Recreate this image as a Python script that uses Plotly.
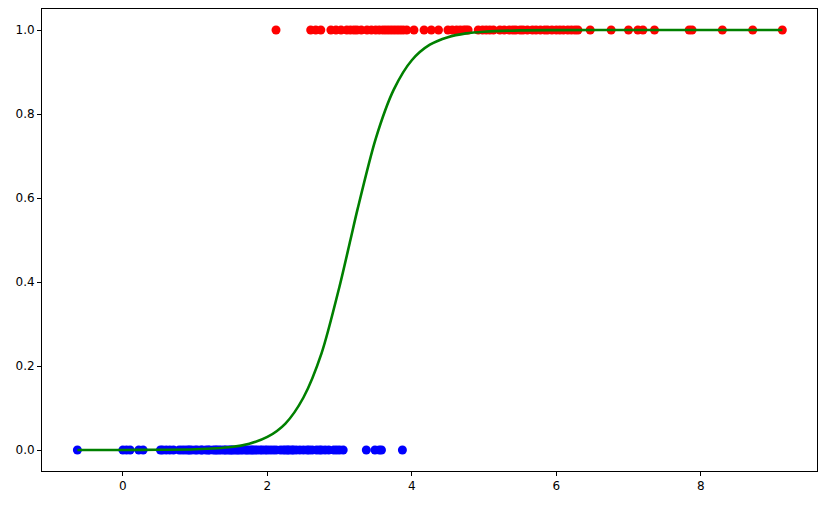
import plotly.graph_objects as go

# Class 0 samples (plotted at y = 0)
blue_x = [-0.63, 0.0, 0.05, 0.1, 0.22, 0.28, 0.52, 0.55, 0.6, 0.65, 0.7, 0.78, 0.82,
          0.86, 0.9, 0.92, 0.95, 1.0, 1.03, 1.08, 1.1, 1.15, 1.18, 1.2, 1.25, 1.28,
          1.3, 1.33, 1.36, 1.4, 1.42, 1.45, 1.48, 1.5, 1.52, 1.55, 1.58, 1.6, 1.63,
          1.66, 1.7, 1.72, 1.75, 1.78, 1.8, 1.83, 1.86, 1.9, 1.93, 1.97, 2.0, 2.04,
          2.08, 2.12, 2.18, 2.22, 2.25, 2.28, 2.3, 2.34, 2.36, 2.4, 2.45, 2.5, 2.55,
          2.58, 2.62, 2.68, 2.72, 2.75, 2.8, 2.85, 2.92, 2.96, 3.0, 3.05, 3.37, 3.49,
          3.55, 3.58, 3.87]
blue_y = [0.0] * len(blue_x)

# Class 1 samples (plotted at y = 1)
red_x = [2.12, 2.6, 2.67, 2.74, 2.88, 2.95, 3.02, 3.1, 3.15, 3.2, 3.24, 3.3, 3.38,
         3.44, 3.5, 3.55, 3.6, 3.64, 3.68, 3.72, 3.76, 3.8, 3.84, 3.88, 3.93, 4.03,
         4.17, 4.27, 4.37, 4.5, 4.56, 4.62, 4.67, 4.72, 4.75, 4.78, 4.92, 4.98, 5.03,
         5.08, 5.13, 5.22, 5.28, 5.35, 5.4, 5.44, 5.5, 5.54, 5.6, 5.67, 5.72, 5.78,
         5.84, 5.88, 5.94, 6.0, 6.05, 6.1, 6.16, 6.21, 6.26, 6.3, 6.47, 6.76, 7.0,
         7.13, 7.2, 7.36, 7.84, 7.88, 8.3, 8.72, 9.13]
red_y = [1.0] * len(red_x)

# Fitted probability curve
curve_x = [-0.63, 0.0, 0.5, 1.0, 1.5, 1.75, 2.0, 2.25, 2.5, 2.75, 3.0, 3.15, 3.25,
           3.5, 3.75, 4.0, 4.25, 4.5, 4.75, 5.0, 5.5, 6.0, 7.0, 9.13]
curve_y = [0.0, 0.0001, 0.0005, 0.0017, 0.007, 0.015, 0.031, 0.063, 0.125, 0.23,
           0.39, 0.5, 0.574, 0.741, 0.858, 0.928, 0.965, 0.983, 0.992, 0.996, 0.999,
           0.9997, 1.0, 1.0]

x_ticks = [0, 2, 4, 6, 8]
y_ticks = [0.0, 0.2, 0.4, 0.6, 0.8, 1.0]

fig = go.Figure()
fig.add_trace(go.Scatter(x=blue_x, y=blue_y, mode="markers",
                         marker=dict(color="#0000ff", size=9, line=dict(width=0)),
                         showlegend=False))
fig.add_trace(go.Scatter(x=red_x, y=red_y, mode="markers",
                         marker=dict(color="#ff0000", size=9, line=dict(width=0)),
                         showlegend=False))
fig.add_trace(go.Scatter(x=curve_x, y=curve_y, mode="lines",
                         line=dict(color="#008000", width=2.6, shape="spline", smoothing=0.8),
                         showlegend=False))

axis_common = dict(showline=True, mirror=True, linecolor="black", linewidth=1,
                   showgrid=False, zeroline=False, ticks="outside", ticklen=4,
                   tickwidth=1, tickcolor="black", automargin=False,
                   tickfont=dict(family="DejaVu Sans", size=12, color="black"))

fig.update_layout(
    width=826, height=505,
    margin=dict(l=42, r=9, t=9, b=34),
    plot_bgcolor="white", paper_bgcolor="white",
    xaxis=dict(range=[-1.12, 9.61], tickvals=x_ticks,
               ticktext=[str(v) for v in x_ticks], **axis_common),
    yaxis=dict(range=[-0.05, 1.05], tickvals=y_ticks,
               ticktext=[f"{v:.1f}" for v in y_ticks], **axis_common),
)

fig.write_html("out.html", config={"displayModeBar": False},
               post_script="document.body.style.margin='0';document.body.style.overflow='hidden';")
